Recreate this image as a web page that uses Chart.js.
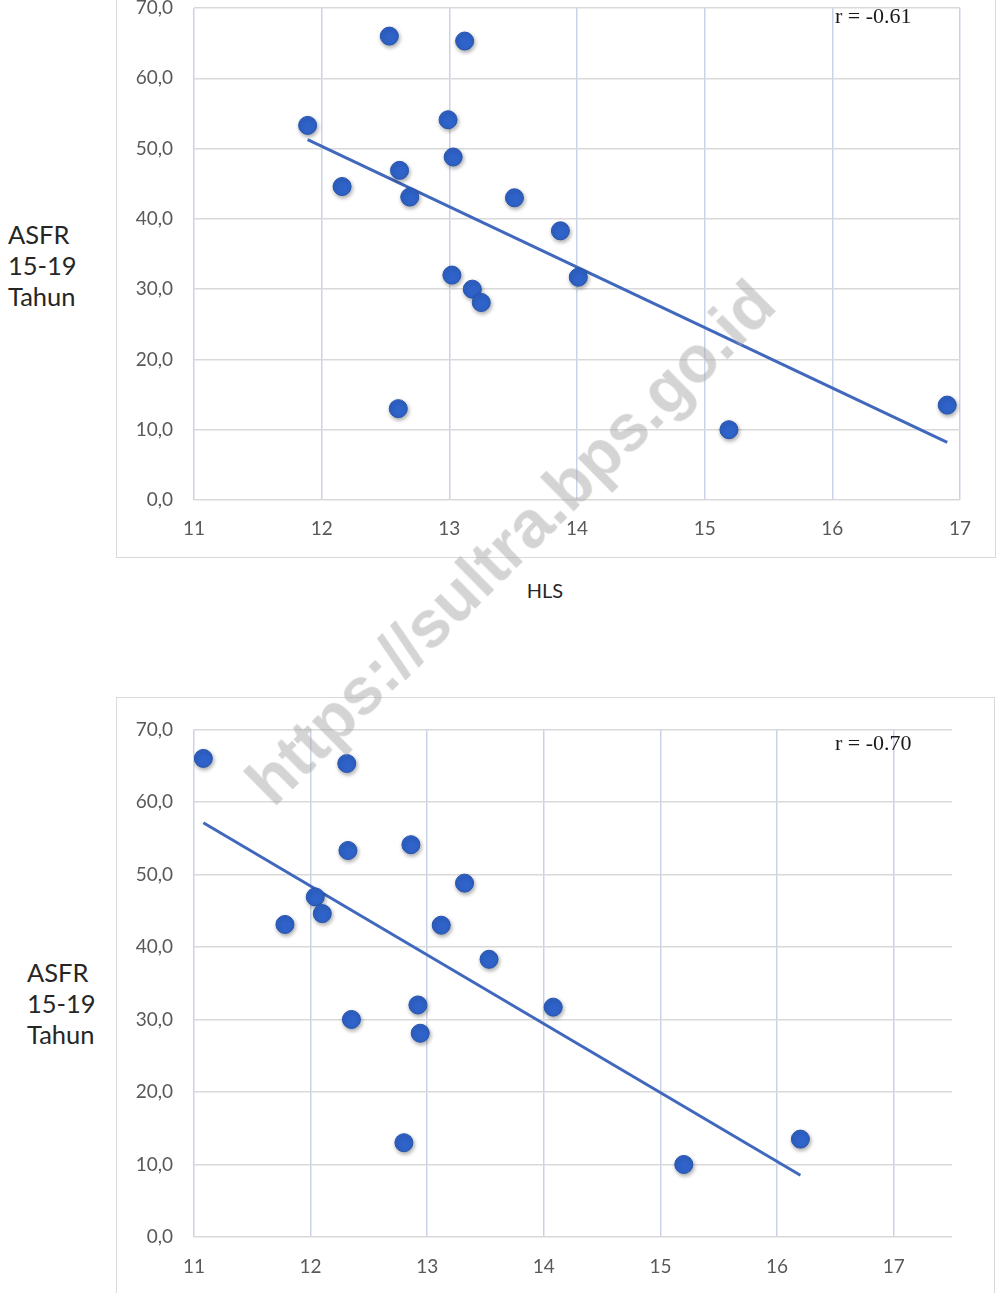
<!DOCTYPE html>
<html lang="id">
<head>
<meta charset="utf-8">
<title>ASFR 15-19 Tahun</title>
<script src="https://cdn.jsdelivr.net/npm/chart.js@4/dist/chart.umd.min.js"></script>
<style>
  html, body { margin: 0; padding: 0; background: #ffffff; }
  body { position: relative; width: 997px; height: 1293px; overflow: hidden; }
  .frame { position: absolute; box-sizing: border-box; border: 1.5px solid #d9d9d9; background: #ffffff; }
  canvas { position: absolute; }
  .ylab { position: absolute; font-family: Lato, "Open Sans", sans-serif; font-size: 25.5px; line-height: 31px; color: #262626; }
  .xlab { position: absolute; font-family: Lato, "Open Sans", sans-serif; font-size: 20px; color: #262626; transform: translate(-50%, -50%); }
  .rlab { position: absolute; font-family: "Liberation Serif", "DejaVu Serif", serif; font-size: 22px; color: #1a1a1a; transform: translateY(-50%); white-space: nowrap; }
  .wm { position: absolute; left: 510px; top: 542px; transform: translate(-50%, -50%) rotate(-44.7deg);
        font-family: "Liberation Sans", Arial, sans-serif; font-weight: bold; font-size: 66px;
        color: rgba(165,165,165,0.48); white-space: nowrap; pointer-events: none; z-index: 10; }
</style>
</head>
<body>

<div class="frame" style="left:116px; top:-42px; width:880px; height:600px;"></div>
<div class="frame" style="left:116px; top:697px; width:879px; height:610px;"></div>

<canvas id="chartHLS" width="880" height="598" style="left:116px; top:-40px;"></canvas>
<canvas id="chartB" width="879" height="600" style="left:116px; top:697px;"></canvas>

<div class="ylab" style="left:8px; top:219px;">ASFR<br>15-19<br>Tahun</div>
<div class="ylab" style="left:27px; top:957px;">ASFR<br>15-19<br>Tahun</div>
<div class="xlab" style="left:545px; top:590px;">HLS</div>
<div class="rlab" style="left:835px; top:16px;">r = -0.61</div>
<div class="rlab" style="left:835px; top:743px;">r = -0.70</div>

<div class="wm">https://sultra.bps.go.id</div>

<script>
// ASFR 15-19 tahun per wilayah (shared y values of both plots)
const asfr = [66.0, 65.3, 53.3, 54.1, 48.8, 46.9, 44.6, 43.1, 43.0, 38.3, 32.0, 31.7, 30.0, 28.1, 13.0, 10.0, 13.5];
// Harapan Lama Sekolah (upper plot x values)
const hls = [12.53, 13.12, 11.89, 12.99, 13.03, 12.61, 12.16, 12.69, 13.51, 13.87, 13.02, 14.01, 13.18, 13.25, 12.60, 15.19, 16.90];
// Second education indicator (lower plot x values), same region order
const indikatorB = [11.08, 12.31, 12.32, 12.86, 13.32, 12.04, 12.10, 11.78, 13.12, 13.53, 12.92, 14.08, 12.35, 12.94, 12.80, 15.20, 16.20];

// Axis ticks
const yTickValues = [0, 10, 20, 30, 40, 50, 60, 70];
const yTickLabels = ['0,0', '10,0', '20,0', '30,0', '40,0', '50,0', '60,0', '70,0'];
const xTickValues = [11, 12, 13, 14, 15, 16, 17];
const xTickLabels = ['11', '12', '13', '14', '15', '16', '17'];

const TICK_FONT = { family: 'Lato, "Open Sans", sans-serif', size: 19 };
const TICK_COLOR = '#595959';
const H_GRID = '#d9d9d9';
const V_GRID = '#c9d3e8';
const POINT_FILL = '#2f63c9';
const POINT_EDGE = '#2653ad';
const TREND_COLOR = '#4068bd';

// Ordinary least squares fit, drawn across the observed x range
function trendPoints(xs, ys) {
  const n = xs.length;
  const mx = xs.reduce((a, b) => a + b, 0) / n;
  const my = ys.reduce((a, b) => a + b, 0) / n;
  let sxy = 0, sxx = 0;
  for (let i = 0; i < n; i++) {
    sxy += (xs[i] - mx) * (ys[i] - my);
    sxx += (xs[i] - mx) * (xs[i] - mx);
  }
  const b = sxy / sxx;
  const a = my - b * mx;
  const x0 = Math.min(...xs), x1 = Math.max(...xs);
  return [{ x: x0, y: a + b * x0 }, { x: x1, y: a + b * x1 }];
}

function labelFrom(values, labels) {
  return (v) => {
    const i = values.indexOf(Math.round(v * 1000) / 1000);
    return i >= 0 ? labels[i] : '';
  };
}

// Soft drop shadow under the markers
const markerShadow = {
  id: 'markerShadow',
  beforeDatasetDraw(chart, args) {
    if (args.meta.type !== 'scatter') return;
    const ctx = chart.ctx;
    ctx.save();
    ctx.shadowColor = 'rgba(0,0,0,0.35)';
    ctx.shadowBlur = 4;
    ctx.shadowOffsetX = 1;
    ctx.shadowOffsetY = 2;
  },
  afterDatasetDraw(chart, args) {
    if (args.meta.type !== 'scatter') return;
    chart.ctx.restore();
  }
};

function makeChart(id, xs, cfg) {
  const points = xs.map((x, i) => ({ x: x, y: asfr[i] }));
  return new Chart(document.getElementById(id), {
    type: 'scatter',
    data: {
      datasets: [
        {
          type: 'scatter',
          data: points,
          order: 1,
          pointRadius: 9,
          pointHoverRadius: 9,
          backgroundColor: POINT_FILL,
          borderColor: POINT_EDGE,
          borderWidth: 1
        },
        {
          type: 'line',
          data: trendPoints(xs, asfr),
          order: 2,
          borderColor: TREND_COLOR,
          borderWidth: 3,
          pointRadius: 0,
          fill: false,
          tension: 0
        }
      ]
    },
    options: {
      responsive: false,
      animation: false,
      devicePixelRatio: 1,
      layout: { padding: { top: cfg.padTop, right: cfg.padRight, left: 0, bottom: 0 } },
      plugins: { legend: { display: false }, tooltip: { enabled: false } },
      scales: {
        x: {
          type: 'linear',
          min: xTickValues[0],
          max: cfg.xMax,
          border: { display: false },
          grid: { color: V_GRID, lineWidth: 1.5, drawTicks: false },
          ticks: {
            stepSize: 1,
            includeBounds: false,
            padding: cfg.xPad,
            maxRotation: 0,
            color: TICK_COLOR,
            font: TICK_FONT,
            callback: labelFrom(xTickValues, xTickLabels)
          },
          afterFit: (s) => { s.height = cfg.xAxisH; }
        },
        y: {
          type: 'linear',
          min: yTickValues[0],
          max: yTickValues[yTickValues.length - 1],
          border: { display: false },
          grid: { color: H_GRID, lineWidth: 1.5, drawTicks: false },
          ticks: {
            stepSize: 10,
            padding: 21,
            color: TICK_COLOR,
            font: TICK_FONT,
            callback: labelFrom(yTickValues, yTickLabels)
          },
          afterFit: (s) => { s.width = 78; }
        }
      }
    },
    plugins: [markerShadow]
  });
}

makeChart('chartHLS', hls, { padTop: 48, padRight: 36, xAxisH: 58, xPad: 17, xMax: 17 });
makeChart('chartB', indikatorB, { padTop: 27, padRight: 43, xAxisH: 60, xPad: 18, xMax: 17.5 });
</script>
</body>
</html>
